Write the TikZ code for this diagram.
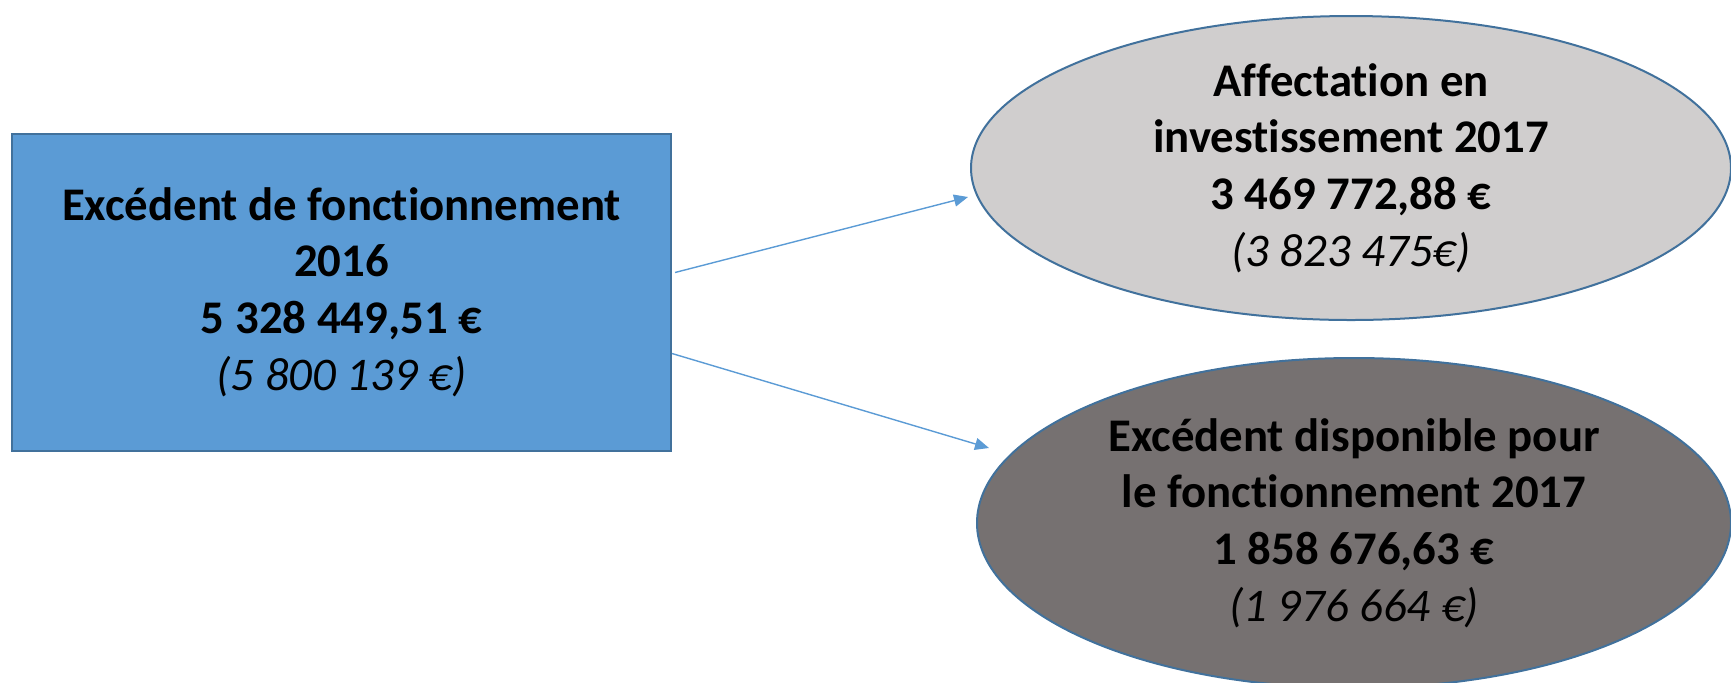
\documentclass[tikz,border=0pt]{standalone}
\usepackage{fontspec}
\setmainfont{Carlito}[Ligatures=NoCommon]
\usetikzlibrary{shapes.geometric,arrows.meta}
\definecolor{boxblue}{HTML}{5B9BD5}
\definecolor{edgeblue}{HTML}{41719C}
\definecolor{lightgrey}{HTML}{D0CECE}
\definecolor{darkgrey}{HTML}{767171}
\begin{document}
\begin{tikzpicture}[x=0.5pt,y=-0.5pt,
  txt/.style={align=center,font=\fontsize{23.4pt}{28.3pt}\selectfont\bfseries,text=black},
  box/.style={txt,draw=edgeblue,line width=1pt,fill=boxblue,minimum width=329.5pt,minimum height=158.5pt,inner sep=0pt},
  oval/.style={txt,ellipse,draw=edgeblue,line width=1pt,inner sep=0pt},
  arr/.style={draw=boxblue,line width=0.7pt,-{Triangle[length=7pt,width=6pt]}}]
\useasboundingbox (0,0) rectangle (1731,682);
\node[box] (src) at (341.5,292) {Excédent de fonctionnement\\2016\\5 328 449,51 €\\{\mdseries\itshape (5 800 139 €)}};
\node[oval,fill=lightgrey,minimum width=380pt,minimum height=152pt] (inv) at (1351,168) {Affectation en\\investissement 2017\\3 469 772,88 €\\{\mdseries\itshape (3 823 475€)}};
\node[oval,fill=darkgrey,minimum width=377pt,minimum height=165pt] (fonc) at (1354,523) {Excédent disponible pour\\le fonctionnement 2017\\1 858 676,63 €\\{\mdseries\itshape (1 976 664 €)}};
\coordinate (tipA) at (968,197);
\coordinate (tipB) at (989,448);
\draw[arr] ([xshift=1.5pt,yshift=9.75pt]src.east) -- (tipA);
\draw[arr] ([yshift=-30.75pt]src.east) -- (tipB);
\end{tikzpicture}
\end{document}
